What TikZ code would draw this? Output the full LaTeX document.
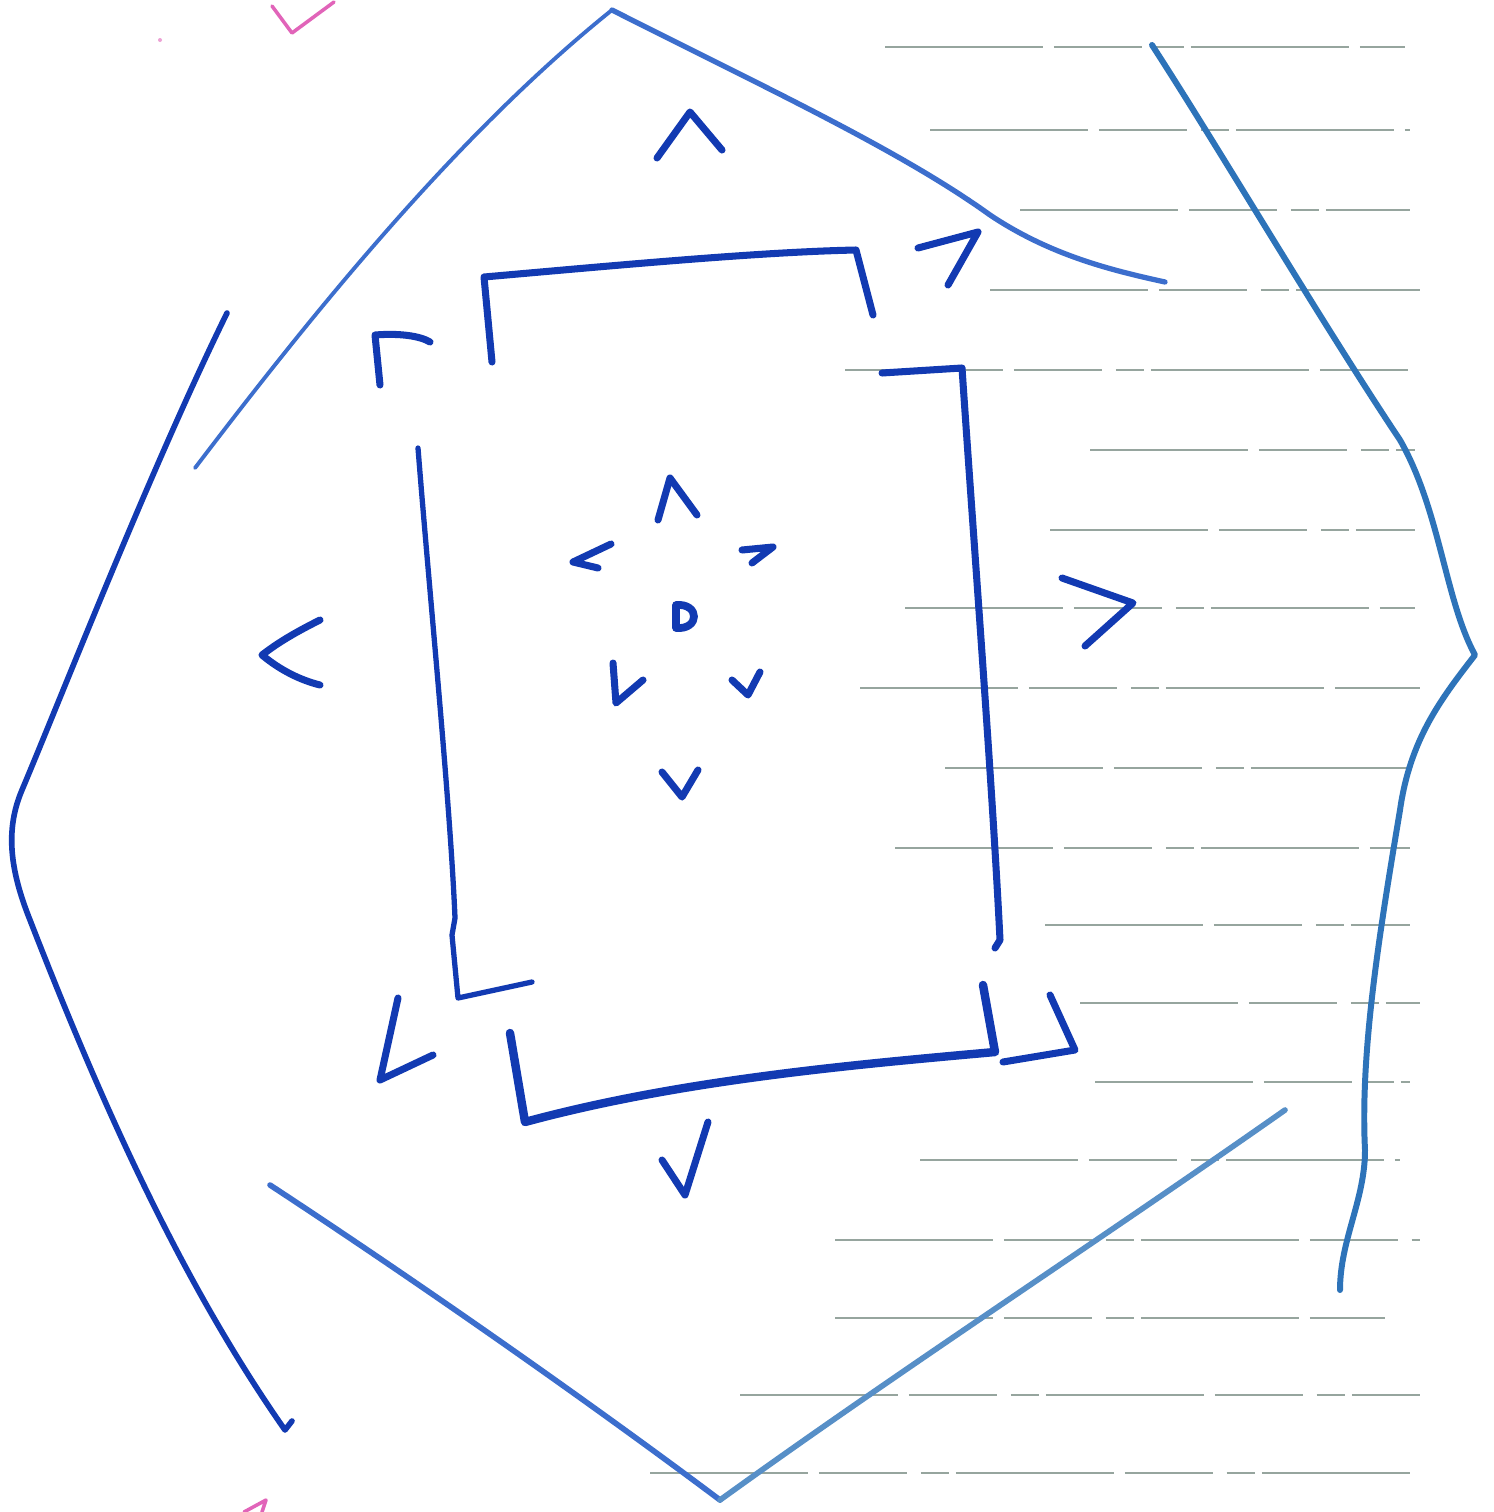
\documentclass[tikz,border=0pt]{standalone}
\definecolor{inkblue}{RGB}{18,58,178}
\definecolor{lightink}{RGB}{60,110,205}
\definecolor{tealink}{RGB}{45,115,185}
\definecolor{ruleline}{RGB}{150,165,158}
\definecolor{pinkink}{RGB}{225,100,185}
\tikzset{
  ink/.style={line width=2pt, line cap=round, line join=round, color=inkblue},
  thinink/.style={line width=1.1pt, line cap=round, line join=round, color=lightink},
  wiggle/.style={line width=1.7pt, line cap=round, line join=round, color=tealink},
  rule/.style={line width=0.4pt, color=ruleline, dash pattern=on 45pt off 3pt on 25pt off 4pt on 8pt off 2pt},
  pinkmark/.style={line width=1pt, line cap=round, line join=round, color=pinkink},
}
\begin{document}
\begin{tikzpicture}[x=0.01cm,y=-0.01cm]
\useasboundingbox (0,0) rectangle (1494,1512);
\fill[white] (0,0) rectangle (1494,1512);
% ruled paper lines
\foreach \yy/\xa/\xb in {47/885/1405,130/930/1410,210/1020/1410,290/990/1420,370/845/1420,450/1090/1415,530/1050/1415,608/905/1415,688/860/1420,768/945/1410,848/895/1410,925/1045/1410,1003/1080/1420,1082/1095/1410,1160/920/1400,1240/835/1420,1318/835/1385,1395/740/1420,1473/650/1410}
  \draw[rule] (\xa,\yy) -- (\xb,\yy);
% pink marks
\draw[pinkmark] (272,6) -- (292,33) -- (334,2);
\fill[pinkink!60] (160,40) circle (2);
\draw[pinkmark] (244,1512) -- (266,1500) -- (262,1512);
% outer shape, top
\draw[thinink] (195,468) .. controls (300,330) and (450,140) .. (612,10);
\draw[thinink, line width=1.5pt] (612,10) .. controls (760,85) and (900,150) .. (990,215)
  .. controls (1050,255) and (1110,270) .. (1165,282);
% outer shape, left
\draw[ink, line width=1.6pt] (227,313) .. controls (150,470) and (60,700) .. (22,790)
  .. controls (5,830) and (10,870) .. (30,920)
  .. controls (100,1100) and (180,1280) .. (285,1430) -- (292,1421);
% outer shape, bottom V
\draw[thinink, line width=1.6pt] (270,1185) .. controls (430,1290) and (600,1410) .. (720,1500);
\draw[wiggle, color=tealink!80, line width=1.6pt] (720,1500) .. controls (900,1370) and (1100,1240) .. (1285,1110);
% right wiggle
\draw[wiggle] (1152,45) .. controls (1220,150) and (1320,320) .. (1400,440)
  .. controls (1440,510) and (1445,600) .. (1475,655)
  .. controls (1440,700) and (1410,740) .. (1400,810)
  .. controls (1380,930) and (1360,1050) .. (1365,1150)
  .. controls (1365,1200) and (1340,1240) .. (1340,1290);
% inner brackets
\draw[ink] (492,362) -- (484,277) .. controls (620,265) and (760,252) .. (856,250) -- (873,315);
\draw[ink] (882,373) -- (962,368) .. controls (975,560) and (992,780) .. (1000,940) -- (995,948);
\draw[ink, line width=1.5pt] (418,448) .. controls (430,600) and (450,800) .. (455,918) -- (452,935) -- (458,998) -- (532,982);
\draw[ink, line width=2.4pt] (510,1033) -- (525,1122) .. controls (680,1080) and (850,1065) .. (995,1052) -- (983,985);
\draw[ink] (1050,995) -- (1075,1050) -- (1003,1062);
% outer chevrons
\draw[ink] (657,158) -- (690,112) -- (722,150);
\draw[ink] (918,248) -- (978,232) -- (948,285);
\draw[ink] (380,385) -- (375,335) .. controls (400,333) and (420,336) .. (430,342);
\draw[ink] (320,620) .. controls (290,635) and (275,645) .. (262,655) .. controls (280,670) and (300,680) .. (320,685);
\draw[ink] (1062,578) -- (1133,603) -- (1085,646);
\draw[ink] (398,998) -- (380,1080) -- (433,1055);
\draw[ink] (662,1160) -- (685,1195) -- (708,1122);
% centre chevrons
\draw[ink] (658,520) -- (670,478) -- (697,515);
\draw[ink] (611,544) -- (573,562) -- (598,568);
\draw[ink] (742,550) -- (773,547) -- (752,563);
\draw[ink, line width=2.2pt] (676,605) -- (676,628) .. controls (700,630) and (700,603) .. (676,605);
\draw[ink] (613,663) -- (616,703) -- (643,680);
\draw[ink] (732,680) -- (748,695) -- (760,672);
\draw[ink] (662,772) -- (682,797) -- (698,770);
\end{tikzpicture}
\end{document}
